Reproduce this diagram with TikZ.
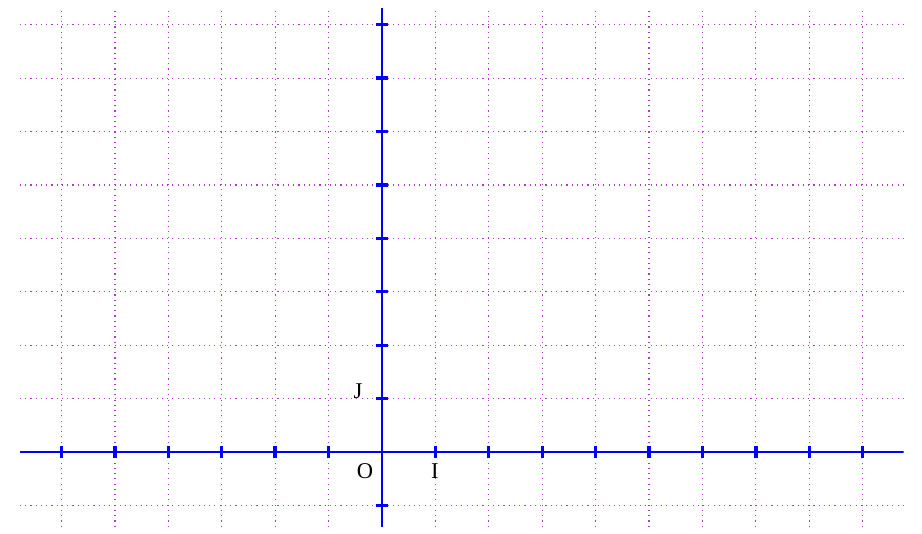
\documentclass[tikz,border=0pt]{standalone}
\usepackage{fontspec}
\setmainfont{Liberation Serif}
\definecolor{gridpurple}{RGB}{170,60,190}
\begin{document}
\begin{tikzpicture}[
  x=1cm, y=1cm,
  gridline/.style={draw=gridpurple, dash pattern=on 0.6pt off 2.2pt, line width=0.6pt},
  axisline/.style={draw=blue, line width=1.1pt},
  tickmark/.style={draw=blue, line width=1.8pt},
  lbl/.style={font=\large, inner sep=0pt}
]
  \useasboundingbox (-7.153,-1.517) rectangle (10.112,8.464);

  % --- Quadrillage ---
  \foreach \y in {-1,...,8}
    \draw[gridline] (-6.78,\y) -- (9.76,\y);
  \foreach \x in {-6,...,9}
    \draw[gridline] (\x,-1.40) -- (\x,8.31);

  % --- Axes ---
  \coordinate (xmin) at (-6.78,0);
  \coordinate (xmax) at (9.76,0);
  \coordinate (ymin) at (0,-1.40);
  \coordinate (ymax) at (0,8.31);
  \draw[axisline] (xmin) -- (xmax);
  \draw[axisline] (ymin) -- (ymax);

  % Graduations
  \foreach \x in {-6,...,-1,1,2,...,9}
    \draw[tickmark] (\x,-0.12) -- (\x,0.12);
  \foreach \y in {-1,1,2,...,8}
    \draw[tickmark] (-0.12,\y) -- (0.12,\y);

  % Etiquettes
  \node[lbl] (O) at (-0.32,-0.36) {O};
  \node[lbl] (I) at (0.99,-0.36) {I};
  \node[lbl] (J) at (-0.45,1.14) {J};
\end{tikzpicture}
\end{document}
